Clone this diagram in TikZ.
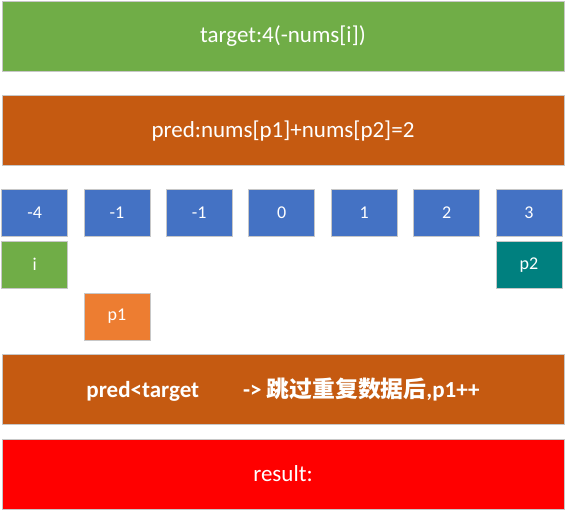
\documentclass[tikz,border=0pt]{standalone}
\usepackage{fontspec}
\setmainfont{Carlito}
\newfontfamily\cjk{Noto Sans CJK SC}
\begin{document}
\begin{tikzpicture}[x=1pt,y=1pt,
  bar/.style={draw=black!22,line width=0.9pt,minimum width=562pt,minimum height=70pt,inner sep=0pt,text=white,font=\fontsize{23}{26}\selectfont},
  cell/.style={draw=black!22,line width=0.9pt,minimum width=66pt,minimum height=47pt,inner sep=0pt,text=white,font=\fontsize{18}{20}\selectfont}]
\definecolor{cgreen}{HTML}{70AD47}
\definecolor{cbrown}{HTML}{C55A11}
\definecolor{cblue}{HTML}{4472C4}
\definecolor{cteal}{HTML}{00807F}
\definecolor{corange}{HTML}{ED7D31}
\useasboundingbox (0,0) rectangle (566,511);
\node[bar,fill=cgreen] (target) at (283,474.5) {target:4(-nums[i])};
\node[bar,fill=cbrown] (pred) at (283,380.3) {pred:nums[p1]+nums[p2]=2};
\node[cell,fill=cblue] (n0) at (34.7,298) {-4};
\node[cell,fill=cblue] (n1) at (117,298) {-1};
\node[cell,fill=cblue] (n2) at (199.3,298) {-1};
\node[cell,fill=cblue] (n3) at (281.8,298) {0};
\node[cell,fill=cblue] (n4) at (364.2,298) {1};
\node[cell,fill=cblue] (n5) at (446.6,298) {2};
\node[cell,fill=cblue] (n6) at (529,298) {3};
\node[cell,fill=cgreen] (pi) at (34.7,246.2) {i};
\node[cell,fill=cteal] (pp2) at (529,246.2) {p2};
\node[cell,fill=corange] (pp1) at (117,194.5) {p1};
\node[bar,fill=cbrown,font=\fontsize{23}{26}\selectfont\bfseries] (cond) at (283,121.2) {pred<target\hspace{44pt}-> {\cjk\bfseries\fontsize{22.8}{26}\selectfont 跳过重复数据后}{,}p1++};
\node[bar,fill=red] (result) at (283,37) {result:};
\end{tikzpicture}
\end{document}
